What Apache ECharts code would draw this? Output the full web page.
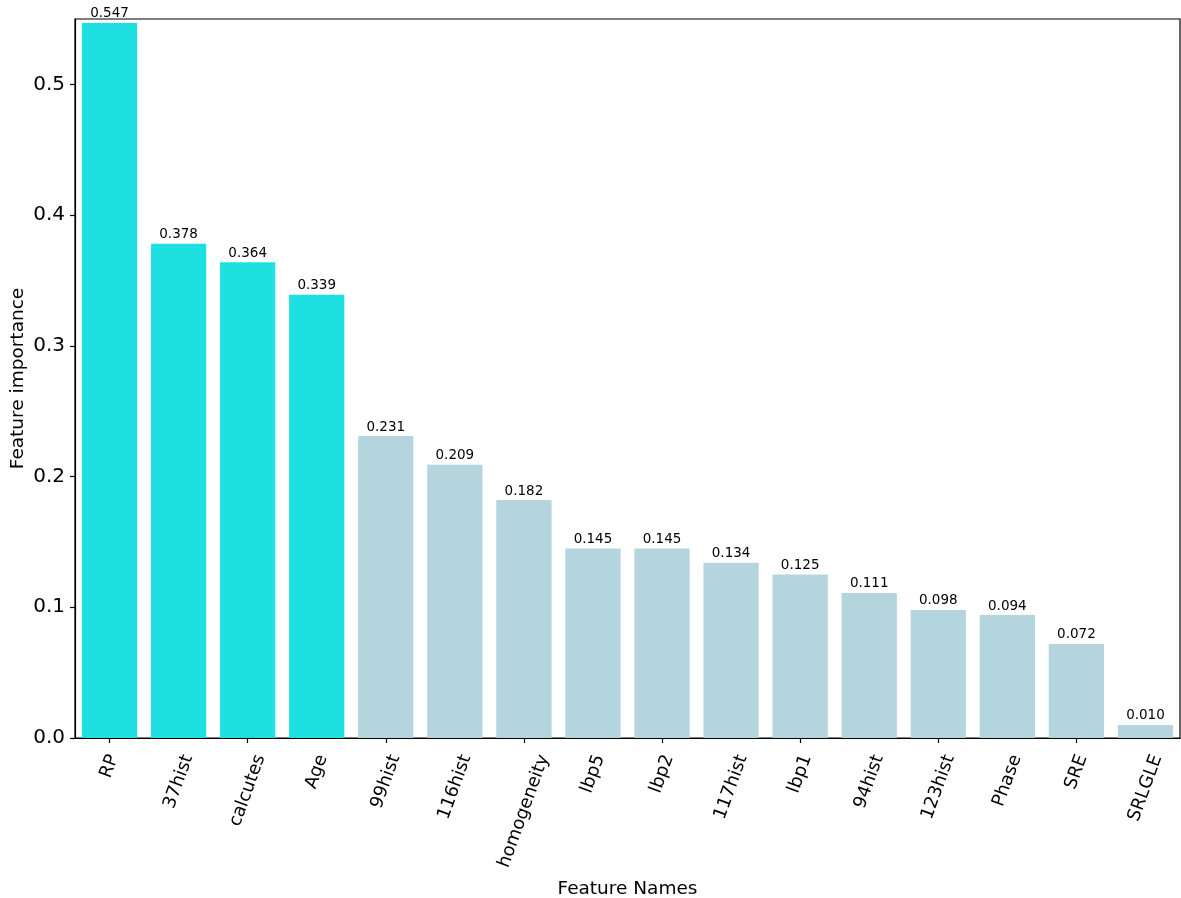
<!DOCTYPE html>
<html>
<head>
<meta charset="utf-8">
<script src="https://cdn.jsdelivr.net/npm/echarts@6/dist/echarts.min.js"></script>
<style>
html,body{margin:0;padding:0;background:#fff;}
#chart{width:1181px;height:898px;}
</style>
</head>
<body>
<div id="chart"></div>
<script>
const categories = ['RP','37hist','calcutes','Age','99hist','116hist','homogeneity','lbp5','lbp2','117hist','lbp1','94hist','123hist','Phase','SRE','SRLGLE'];
const importance = [0.547,0.378,0.364,0.339,0.231,0.209,0.182,0.145,0.145,0.134,0.125,0.111,0.098,0.094,0.072,0.010];
const topCount = 4;
const yTicks = [0.0,0.1,0.2,0.3,0.4,0.5];

const FONT = 'DejaVu Sans';
const XLABEL_SIZE = 18;
const ROT = 70 * Math.PI / 180;
const measureCtx = document.createElement('canvas').getContext('2d');
measureCtx.font = XLABEL_SIZE + 'px "' + FONT + '"';

const chart = echarts.init(document.getElementById('chart'), null, {renderer:'canvas'});
chart.setOption({
  animation:false,
  backgroundColor:'#fff',
  grid:{left:75,right:1,top:19,bottom:160,containLabel:false,outerBoundsMode:'none',
        show:true,borderColor:'#000',borderWidth:1.2,backgroundColor:'transparent'},
  xAxis:{
    type:'category',
    data:categories,
    name:'Feature Names',
    nameLocation:'middle',
    nameGap:142,
    nameTextStyle:{fontFamily:FONT,fontSize:18.5,color:'#000'},
    axisLine:{show:true,lineStyle:{color:'#000',width:1.2}},
    axisTick:{show:true,alignWithLabel:true,length:5,lineStyle:{color:'#000',width:1.2}},
    axisLabel:{show:false},
    splitLine:{show:false}
  },
  yAxis:{
    type:'value',
    min:0,
    max:0.55,
    interval:0.1,
    name:'Feature importance',
    nameLocation:'middle',
    nameGap:47,
    nameMoveOverlap:false,
    nameTextStyle:{fontFamily:FONT,fontSize:18.5,color:'#000'},
    axisLine:{show:true,lineStyle:{color:'#000',width:1.2}},
    axisTick:{show:true,length:5,lineStyle:{color:'#000',width:1.2}},
    axisLabel:{margin:10,fontFamily:FONT,fontSize:20,color:'#000',showMaxLabel:false,
      formatter:function(v){
        const hit = yTicks.find(t=>Math.abs(t-v)<1e-9);
        return hit===undefined ? '' : hit.toFixed(1);
      }},
    splitLine:{show:false}
  },
  series:[{
    type:'bar',
    data:importance,
    barCategoryGap:'20%',
    itemStyle:{
      color:function(p){return p.dataIndex < topCount ? '#1fe0e0' : '#b4d4de';}
    },
    label:{
      show:true,
      position:'top',
      distance:2,
      fontFamily:FONT,
      fontSize:13.5,
      color:'#000',
      formatter:function(p){return p.value.toFixed(3);}
    }
  },{
    type:'custom',
    silent:true,
    clip:false,
    z:10,
    data:categories.map(function(c,i){return [i,0];}),
    renderItem:function(params, api){
      const text = categories[params.dataIndex];
      const p = api.coord([api.value(0), 0]);
      const L = measureCtx.measureText(text).width;
      const h = XLABEL_SIZE * 0.8;
      const V = L * Math.sin(ROT) + h * Math.cos(ROT);
      return {
        type:'text',
        x:p[0],
        y:p[1] + 15 + V/2,
        rotation:ROT,
        style:{text:text, align:'center', verticalAlign:'middle',
               font: XLABEL_SIZE + 'px "' + FONT + '"', fill:'#000'}
      };
    }
  }]
});
</script>
</body>
</html>
